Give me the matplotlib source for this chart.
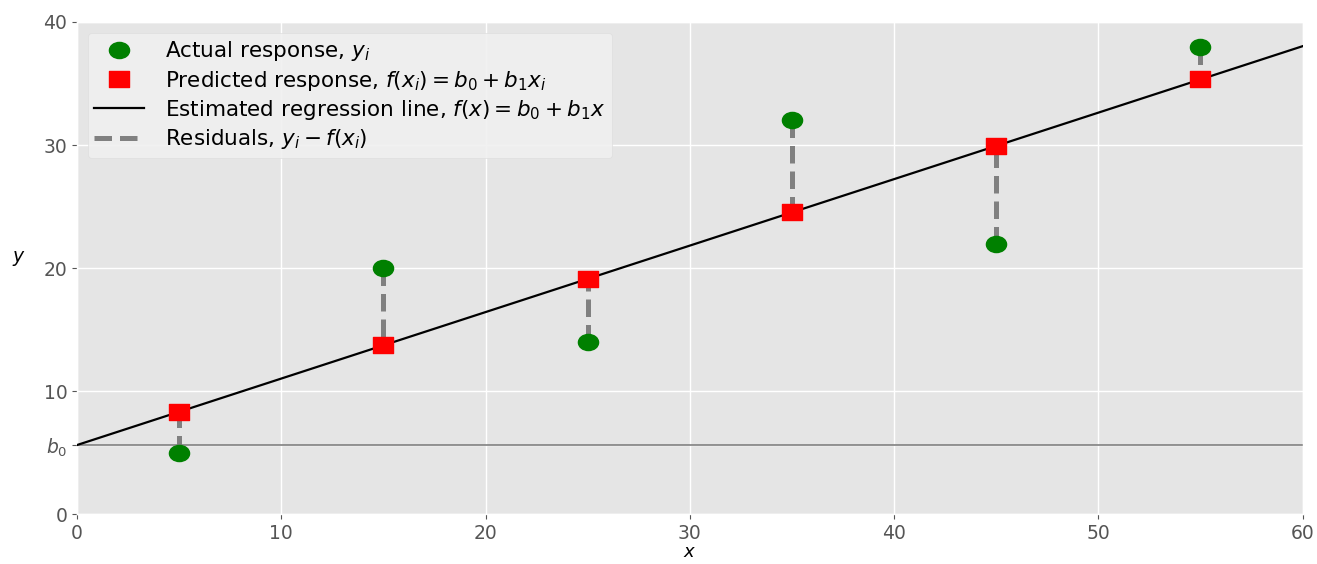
import numpy as np
import matplotlib
matplotlib.use("Agg")
import matplotlib.pyplot as plt
from matplotlib.path import Path

plt.style.use("ggplot")

x = [5, 15, 25, 35, 45, 55]
y = [5, 20, 14, 32, 22, 38]
b0 = 5.633
b1 = 0.54
y_pred = [b0 + b1 * xi for xi in x]
x_line = [0, 60]
y_line = [b0 + b1 * xi for xi in x_line]

# squashed markers (the reference image is horizontally stretched)
circ = Path.unit_circle()
ellipse = Path(circ.vertices * np.array([1.0, 0.8]), circ.codes)
square_ = Path(np.array([[-1, -0.8], [1, -0.8], [1, 0.8], [-1, 0.8], [-1, -0.8]]),
               [Path.MOVETO, Path.LINETO, Path.LINETO, Path.LINETO, Path.CLOSEPOLY])

fig = plt.figure(figsize=(13.17, 5.64), dpi=100)
ax = fig.add_axes([0.0585, 0.088, 0.9305, 0.873])

dash = (0, (3.5, 1.6))
ax.axhline(b0, color="gray", lw=1.2, zorder=2)
for xi, yi, pi in zip(x, y, y_pred):
    ax.plot([xi, xi], [yi, pi], color="gray", lw=3.6, ls=dash, zorder=3)
ax.plot(x_line, y_line, color="k", lw=1.6, zorder=4,
        label=r"Estimated regression line, $f(x) = b_0 + b_1 x$")
ax.plot(x, y, ls="none", marker=ellipse, color="green", ms=14.5, zorder=5,
        label=r"Actual response, $y_i$")
ax.plot(x, y_pred, ls="none", marker=square_, color="red", ms=14, zorder=6,
        label=r"Predicted response, $f(x_i) = b_0 + b_1 x_i$")
ax.plot([], [], color="gray", lw=3.6, ls=dash, label=r"Residuals, $y_i - f(x_i)$")

h, l = ax.get_legend_handles_labels()
order = [1, 2, 0, 3]
ax.legend([h[i] for i in order], [l[i] for i in order], loc="upper left",
          fontsize=15.5, facecolor="#f0f0f0", framealpha=0.9, edgecolor="#dddddd",
          borderaxespad=0.5, handlelength=2.3, handletextpad=1.0, labelspacing=0.25,
          borderpad=0.3)

ax.set_xlim(0, 60)
ax.set_ylim(0, 40)
ax.set_xticks([0, 10, 20, 30, 40, 50, 60])
ax.set_yticks([0, 10, b0, 20, 30, 40])
ax.set_yticklabels(["0", "10", r"$b_0$", "20", "30", "40"])
ax.tick_params(labelsize=13.5, colors="#555555")
ax.set_xlabel(r"$x$", fontsize=13, color="k", labelpad=0)
ax.set_ylabel(r"$y$", fontsize=13.5, color="k", rotation=0, labelpad=18)
ax.grid(True, color="white", lw=1)

fig.savefig("out.png", dpi=100)
